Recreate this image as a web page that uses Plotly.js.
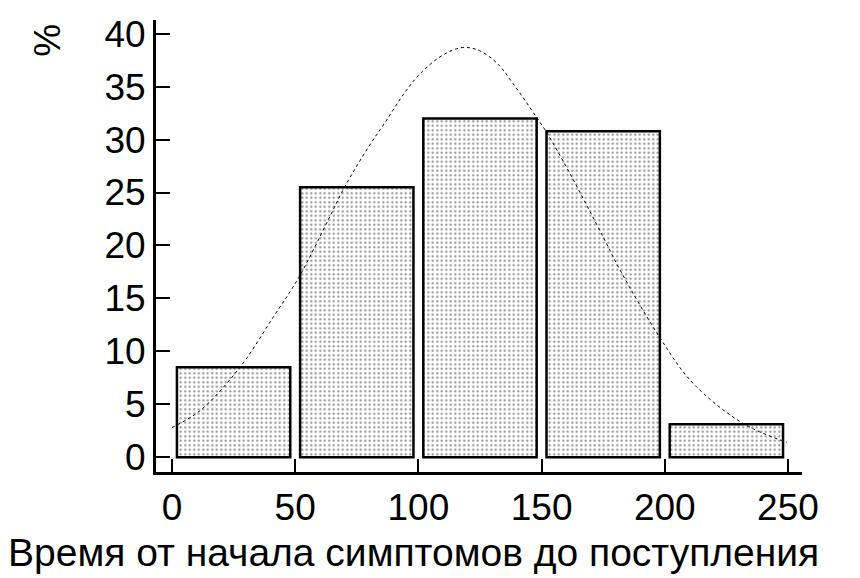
<!DOCTYPE html>
<html>
<head>
<meta charset="utf-8">
<script src="https://cdn.plot.ly/plotly-3.0.1.min.js"></script>
<style>html,body{margin:0;padding:0;background:#fff;}#chart{width:860px;height:578px;}</style>
</head>
<body>
<div id="chart"></div>
<script>
// Histogram bins (centres, minutes) and percentages
var binCenters = [25, 75, 125, 175, 225];
var binPercents = [8.5, 25.5, 32.0, 30.8, 3.1];

// Fitted curve, points
var curveX = [0, 11.4, 27.6, 41, 51.5, 64, 70, 80, 87, 94, 100.6, 110, 118, 124.8, 132, 138.4, 148, 152, 161.5, 175, 181.8, 198, 211.4, 231.7, 249.5];
var curveY = [2.8, 4.4, 8.5, 13.2, 17.0, 22.7, 25.5, 29.4, 31.8, 34.3, 36.2, 38.0, 38.7, 38.4, 37.2, 35.3, 32.1, 30.7, 26.8, 20.8, 17.7, 11.3, 7.0, 3.2, 1.4];

var xTicks = [0, 50, 100, 150, 200, 250];
var yTicks = [0, 5, 10, 15, 20, 25, 30, 35, 40];
var xTitle = "Время от начала симптомов до поступления";
var yTitle = "%";

var FONT = "Liberation Sans, Arial, sans-serif";

var traces = [
  {
    type: "bar",
    x: binCenters,
    y: binPercents,
    width: 46,
    marker: {
      color: "#ffffff",
      line: {color: "#000000", width: 2.5},
      pattern: {shape: ".", fgcolor: "#8a8a8a", bgcolor: "#ffffff", size: 4.5, solidity: 0.18}
    },
    hoverinfo: "skip",
    showlegend: false
  },
  {
    type: "scatter",
    mode: "lines",
    x: curveX,
    y: curveY,
    line: {color: "#000000", width: 1, dash: "dot", shape: "spline", smoothing: 1},
    hoverinfo: "skip",
    showlegend: false
  }
];

var layout = {
  width: 860,
  height: 578,
  margin: {l: 156, r: 58, t: 20, b: 106},
  paper_bgcolor: "#ffffff",
  plot_bgcolor: "#ffffff",
  font: {family: FONT, color: "#000000"},
  showlegend: false,
  bargap: 0,
  xaxis: {
    range: [-6.5, 255.7],
    tickvals: xTicks,
    ticktext: xTicks.map(String),
    ticks: "inside",
    ticklen: 13,
    tickwidth: 2,
    tickcolor: "#000000",
    showline: true,
    linecolor: "#000000",
    linewidth: 3,
    showgrid: false,
    zeroline: false,
    tickfont: {family: FONT, size: 37, color: "#000000"},
    ticklabelstandoff: 1,
    fixedrange: true
  },
  yaxis: {
    range: [-1.4, 41.3],
    tickvals: yTicks,
    ticktext: yTicks.map(String),
    ticks: "inside",
    ticklen: 14,
    tickwidth: 2,
    tickcolor: "#000000",
    showline: true,
    linecolor: "#000000",
    linewidth: 3,
    showgrid: false,
    zeroline: false,
    tickfont: {family: FONT, size: 37, color: "#000000"},
    ticklabelstandoff: 0,
    fixedrange: true
  },
  annotations: [
    {
      text: yTitle,
      xref: "paper", yref: "paper",
      x: -0.168, y: 0.955,
      xanchor: "center", yanchor: "middle",
      textangle: -90,
      showarrow: false,
      font: {family: FONT, size: 37, color: "#000000"}
    },
    {
      text: xTitle,
      xref: "paper", yref: "paper",
      x: -0.232, y: -0.178,
      xanchor: "left", yanchor: "middle",
      showarrow: false,
      font: {family: FONT, size: 39, color: "#000000"}
    }
  ]
};

Plotly.newPlot("chart", traces, layout, {displayModeBar: false, staticPlot: true});
</script>
</body>
</html>
